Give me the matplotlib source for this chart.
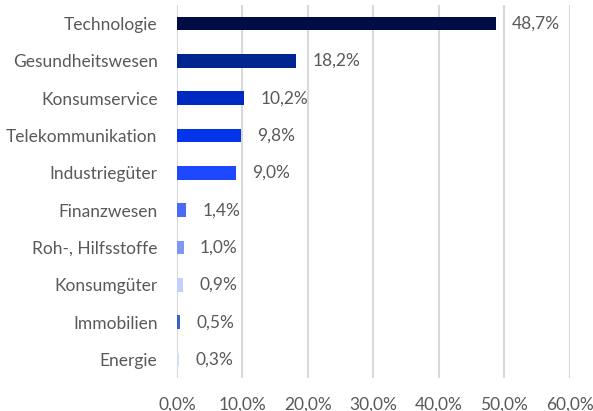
import matplotlib.pyplot as plt
import numpy as np

# sector weights in percent
sectors = ["Technologie", "Gesundheitswesen", "Konsumservice", "Telekommunikation",
           "Industriegüter", "Finanzwesen", "Roh-, Hilfsstoffe", "Konsumgüter",
           "Immobilien", "Energie"]
weights = [48.7, 18.2, 10.2, 9.8, 9.0, 1.4, 1.0, 0.9, 0.5, 0.3]
bar_colors = ["#000C45", "#002591", "#0029C2", "#0535EA", "#1D48FF",
              "#4A6CF5", "#7F97F7", "#C4CFFB", "#3A62C8", "#D5DDFB"]
x_ticks = [0, 10, 20, 30, 40, 50, 60]


def pct(v):
    return f"{v:.1f}%".replace(".", ",")


def main():
    plt.rcParams['font.family'] = ['Lato', 'DejaVu Sans']
    text_color = "#595959"
    fs = 12.5

    fig = plt.figure(figsize=(5.93, 4.11), dpi=100)
    ax = fig.add_axes([0.2985, 0.08, 0.6625, 0.908])

    y = np.arange(len(sectors))
    ax.barh(y, weights, height=0.37, color=bar_colors, zorder=3)

    for yi, w in zip(y, weights):
        ax.text(w + 2.5, yi, pct(w), va="center", ha="left",
                fontsize=fs, color=text_color)

    ax.set_xlim(0, 60)
    ax.set_ylim(len(sectors) - 0.5, -0.5)
    ax.set_xticks(x_ticks)
    ax.set_xticklabels([pct(t) for t in x_ticks])
    ax.set_yticks(y)
    ax.set_yticklabels(sectors)
    ax.tick_params(axis="both", length=0, labelsize=fs, colors=text_color)
    ax.tick_params(axis="y", pad=14)
    ax.tick_params(axis="x", pad=13)

    ax.grid(axis="x", color="#D9D9D9", linewidth=1.5, zorder=0)
    for s in ax.spines.values():
        s.set_visible(False)

    fig.savefig("out.png", dpi=100)


if __name__ == '__main__':
    main()
